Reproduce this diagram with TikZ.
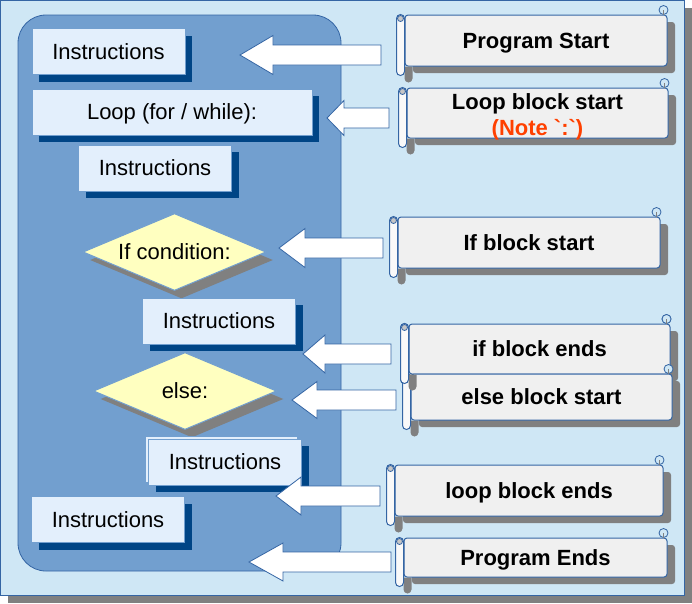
\documentclass[tikz,border=0pt]{standalone}
\usepackage{fontspec}
\setmainfont{Liberation Sans}
\usetikzlibrary{shapes.geometric,shadows,calc}

\definecolor{paleblue}{HTML}{CFE7F5}
\definecolor{midblue}{HTML}{729FCF}
\definecolor{edgeblue}{HTML}{3465A4}
\definecolor{boxfill}{HTML}{E3EFFC}
\definecolor{boxshade}{HTML}{004586}
\definecolor{condfill}{HTML}{FFFFC0}
\definecolor{scrollfill}{HTML}{F0F0F0}
\definecolor{shadegray}{HTML}{808080}
\definecolor{notered}{HTML}{FF4000}

% roll and curls of a scroll note
\newcommand\scrollroll[1]{%
  \fill[shadegray] ($(#1.south west)+(0,0)$) [rounded corners=4] -- ($(#1.south west)+(0,16)$)
     -- ($(#1.south west)+(8,16)$) [sharp corners] -- ($(#1.south west)+(8,0)$) -- cycle;
  \filldraw[draw=edgeblue, fill=white!60!scrollfill, line width=1pt, rounded corners=4]
     ($(#1.north west)+(-8,0)$) rectangle ($(#1.south west)+(0,9)$);
  \filldraw[draw=edgeblue, fill=gray!45, line width=0.8pt] ($(#1.north west)+(-4,4)$) circle (3);
  \filldraw[draw=edgeblue, fill=paleblue, line width=0.8pt] ($(#1.north east)+(-4,-4.5)$) circle (4.5);
  \draw[gray, line width=1pt] ($(#1.north east)+(-4,-4.5)$) -- ($(#1.north east)+(-4,0)$);
}
% block arrow pointing left: tip, length, head length, head half width
\newcommand\blockarrow[4]{%
  \filldraw[barrow] (#1) -- ++(#3,-#4) -- ++(0,#4-10) -- ++(#2-#3,0) -- ++(0,20)
     -- ++(-#2+#3,0) -- ++(0,#4-10) -- cycle;
}

\begin{document}
\begin{tikzpicture}
  [x=1pt,y=-1pt,
   every node/.style={font=\fontsize{22}{26}\selectfont},
   instr/.style={rectangle,draw=midblue,line width=1pt,fill=boxfill,minimum width=153,
     minimum height=46,inner sep=0,text height=18,text depth=2.2,
     general shadow={fill=boxshade,shadow xshift=7pt,shadow yshift=-7pt}},
   cond/.style={diamond,shape aspect=2.4,draw=midblue,line width=1pt,fill=condfill,
     minimum width=183,minimum height=77,inner sep=0,
     general shadow={fill=shadegray,shadow xshift=7pt,shadow yshift=-8pt}},
   note/.style={rectangle,rounded corners=3,draw=edgeblue,line width=1pt,fill=scrollfill,
     inner sep=0,font=\fontsize{22}{26}\selectfont\bfseries,
     general shadow={fill=shadegray,shadow xshift=8pt,shadow yshift=-7pt}},
   oneline/.style={text height=18,text depth=2.2},
   barrow/.style={draw=edgeblue,fill=white,line width=0.8pt}]
  \useasboundingbox (0,0) rectangle (692,603);

  % frame and loop panel
  \fill[shadegray] (8,8) rectangle (692,603);
  \filldraw[fill=paleblue,draw=edgeblue,line width=1pt] (0.5,0.5) rectangle (684,595);
  \filldraw[fill=midblue,draw=edgeblue,line width=0.8pt,rounded corners=28] (18,15) rectangle (341,571);

  % program blocks
  \node[instr] (i1) at (108.5,51.5) {Instructions};
  \node[instr,minimum width=280] (i2) at (172,112) {Loop (for / while):};
  \node[instr] (i3) at (155,168) {Instructions};
  \node[cond] (c1) at (174.5,252) {If condition:};
  \node[instr] (i4) at (219,321) {Instructions};
  \node[cond] (c2) at (185,391) {else:};
  \node[rectangle,draw=midblue,line width=1pt,fill=boxfill,minimum width=152,minimum height=46] (i5b) at (221,459) {};
  \node[instr] (i5) at (225,462) {Instructions};
  \node[instr] (i6) at (108,519.5) {Instructions};

  % notes
  \node[note,oneline,minimum width=262,minimum height=51] (s1) at (536,40.5) {Program Start};
  \scrollroll{s1}
  \node[note,align=center,minimum width=261,minimum height=50] (s2) at (537.5,113)
    {\rule{0pt}{19pt}Loop block start\\\raisebox{0pt}[\height][0pt]{\textcolor{notered}{(Note \textasciigrave:\textasciigrave)}}};
  \scrollroll{s2}
  \node[note,oneline,minimum width=262,minimum height=51] (s3) at (529,242.5) {If block start};
  \scrollroll{s3}
  \node[note,oneline,minimum width=261,minimum height=50] (s4) at (539.5,349) {if block ends};
  \scrollroll{s4}
  \node[note,oneline,minimum width=261,minimum height=46] (s5) at (541.5,397) {else block start};
  \scrollroll{s5}
  \scrollroll{s4}
  \node[note,oneline,minimum width=268,minimum height=51] (s6) at (529,490.5) {loop block ends};
  \scrollroll{s6}
  \node[note,oneline,minimum width=263,minimum height=39] (s7) at (535.5,557.5) {Program Ends};
  \scrollroll{s7}

  % arrows
  \coordinate (a1) at (240,55);
  \coordinate (a2) at (327,118);
  \coordinate (a3) at (279,248);
  \coordinate (a4) at (303,354);
  \coordinate (a5) at (292,400);
  \coordinate (a6) at (276,496);
  \coordinate (a7) at (249,562);
  \blockarrow{a1}{141}{33}{19.5}
  \blockarrow{a2}{62}{17}{17.5}
  \blockarrow{a3}{104}{26}{19.5}
  \blockarrow{a4}{88}{22}{19}
  \blockarrow{a5}{104}{25}{18.5}
  \blockarrow{a6}{104}{25}{19}
  \blockarrow{a7}{142}{34}{19}
\end{tikzpicture}
\end{document}
